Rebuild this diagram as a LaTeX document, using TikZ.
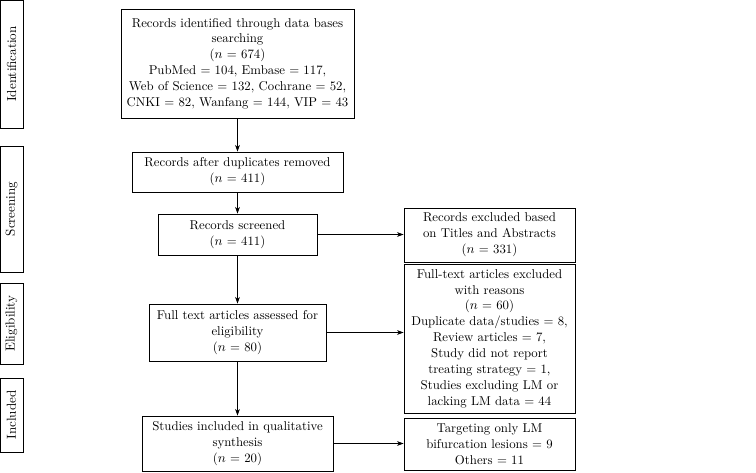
\documentclass[tikz,border=0pt]{standalone}
\usetikzlibrary{arrows.meta}

\tikzset{every picture/.style={line width=0.6pt}}
\tikzset{
	flowbox/.style={draw, align=center, inner sep=0pt, font=\fontsize{9.6}{11.9}\selectfont},
	stagebox/.style={draw, rotate=90, inner sep=0pt, minimum height=17.25pt, font=\fontsize{9.8}{12}\selectfont},
	flowarrow/.style={-{Stealth[length=5pt,width=3.6pt]}}
}

\begin{document}
\begin{tikzpicture}[x=0.75pt,y=0.75pt,yscale=-1,xscale=1]
\path[use as bounding box] (0,0) rectangle (756,473);

% Stage labels
\node (ident) at (11.5,64) [stagebox, minimum width=96pt] {Identification};
\node (screen) at (11.5,209) [stagebox, minimum width=94.5pt] {Screening};
\node (elig) at (11.5,323.5) [stagebox, minimum width=60.75pt] {Eligibility};
\node (incl) at (11.5,415) [stagebox, minimum width=55.5pt] {Included};

% Main column
\node (search) at (237.5,63.5) [flowbox, minimum width=174.75pt, minimum height=81.75pt] {Records identified through data bases\\searching\\($n$ = 674)\\PubMed = 104, Embase = 117,\\Web of Science = 132, Cochrane = 52,\\CNKI = 82, Wanfang = 144, VIP = 43};
\node (dedup) at (237.5,172) [flowbox, minimum width=158.25pt, minimum height=30pt] {Records after duplicates removed\\($n$ = 411)};
\node (screened) at (237.5,234.5) [flowbox, minimum width=119.25pt, minimum height=30.75pt] {Records screened\\($n$ = 411)};
\node (fulltext) at (237.5,332.5) [flowbox, minimum width=132.75pt, minimum height=42.75pt] {Full text articles assessed for\\eligibility\\($n$ = 80)};
\node (included) at (237.5,443.5) [flowbox, minimum width=143.25pt, minimum height=41.25pt] {Studies included in qualitative\\synthesis\\($n$ = 20)};

% Right column
\node (exclabs) at (489.5,235) [flowbox, minimum width=128.25pt, minimum height=40.5pt] {Records excluded based\\on Titles and Abstracts\\($n$ = 331)};
\node (exclfull) at (489.5,338.5) [flowbox, minimum width=128.25pt, minimum height=111.75pt] {Full-text articles excluded\\with reasons\\($n$ = 60)\\Duplicate data/studies = 8,\\Review articles = 7,\\Study did not report\\treating strategy = 1,\\Studies excluding LM or\\lacking LM data = 44};
\node (subgroup) at (489.5,444) [flowbox, minimum width=128.25pt, minimum height=39pt] {Targeting only LM\\bifurcation lesions = 9\\Others = 11};

% Arrows
\draw[flowarrow] (search) -- (dedup);
\draw[flowarrow] (dedup) -- (screened);
\draw[flowarrow] (screened) -- (fulltext);
\draw[flowarrow] (fulltext) -- (included);
\draw[flowarrow] (screened.east) -- (screened.east -| exclabs.west);
\draw[flowarrow] (fulltext.east) -- (fulltext.east -| exclfull.west);
\draw[flowarrow] (included.east) -- (included.east -| subgroup.west);

\end{tikzpicture}
\end{document}
